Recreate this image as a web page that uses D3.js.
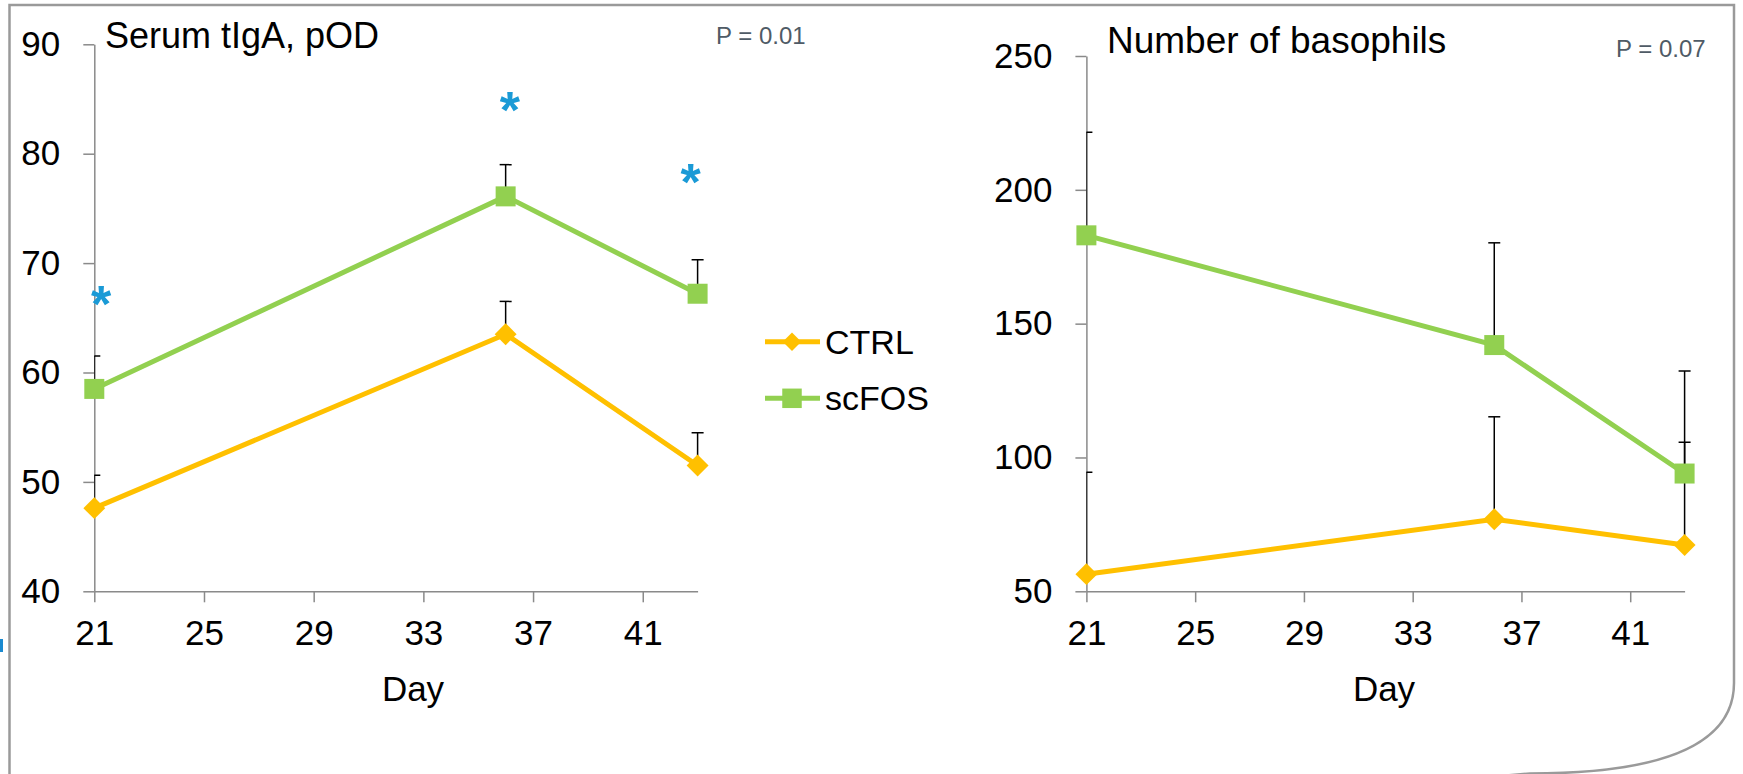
<!DOCTYPE html>
<html>
<head>
<meta charset="utf-8">
<script src="https://cdn.jsdelivr.net/npm/d3@7"></script>
<style>
    html, body { margin: 0; padding: 0; background: #fff; }
    svg { display: block; }
    text { font-family: "Liberation Sans", Arial, sans-serif; }
    .axis path, .axis line { stroke: #8a8a8a; stroke-width: 1.5; }
    .axis text { fill: #000; font-size: 35px; }
</style>
</head>
<body>
<div id="chart"></div>
<script>
// data
const days = [21, 36, 43];
const dayTicks = [21, 25, 29, 33, 37, 41];
const seriesNames = ['CTRL', 'scFOS'];

const igaTicks = [40, 50, 60, 70, 80, 90];
const igaCtrl = [47.6, 63.5, 51.5];
const igaCtrlSem = [3.0, 3.0, 3.0];
const igaScfos = [58.5, 76.1, 67.2];
const igaScfosSem = [3.0, 2.9, 3.1];
const igaStarDays = [21.25, 36.15, 42.75];
const igaStarLevels = [67.3, 85.0, 78.4];

const basoTicks = [50, 100, 150, 200, 250];
const basoCtrl = [56.4, 76.9, 67.3];
const basoCtrlSem = [38.1, 38.3, 38.4];
const basoScfos = [183, 142, 94];
const basoScfosSem = [38.5, 38.2, 38.3];

const orange = '#ffc000';
const green = '#92d050';
const width = 1743, height = 774;

class DayChart {
    constructor(option) {
        for (let [key, value] of Object.entries(option)) {
            this[key] = value;
        }
        this.g = this.svg.append('g');
        this.creatAxis();
        this.creatText();
        this.creatLines();
    }
    creatAxis() {
        this.x = d3.scaleLinear().domain([21, 43]).range([this.left, this.right]);
        this.y = d3.scaleLinear().domain(this.yDomain).range([this.bottom, this.top]);

        let yAxis = d3.axisLeft(this.y).tickValues(this.yTicks).tickSize(11).tickPadding(23).tickSizeOuter(0);
        this.g.append('g').attr('class', 'axis')
            .attr('transform', `translate(${this.left},0)`)
            .call(yAxis);

        let xAxis = d3.axisBottom(this.x).tickValues(dayTicks).tickSize(11).tickPadding(18).tickSizeOuter(0);
        this.g.append('g').attr('class', 'axis')
            .attr('transform', `translate(0,${this.bottom})`)
            .call(xAxis);
    }
    creatText() {
        this.g.append('text')
            .attr('x', this.titleX).attr('y', this.titleY)
            .attr('font-size', this.titleSize).text(this.title);
        this.g.append('text')
            .attr('x', this.pX).attr('y', this.pY)
            .attr('font-size', 24).attr('fill', '#4f5b66').text(this.pText);
        this.g.append('text')
            .attr('x', this.dayX).attr('y', 701)
            .attr('text-anchor', 'middle').attr('font-size', 35).text('Day');
    }
    creatLines() {
        let _this = this;
        let line = d3.line()
            .x(function(d) { return _this.x(d.day); })
            .y(function(d) { return _this.y(d.value); });

        let clipId = 'clip' + this.title.length;
        this.g.append('clipPath').attr('id', clipId)
            .append('rect')
            .attr('x', this.left).attr('y', 0)
            .attr('width', this.right - this.left + 20).attr('height', this.bottom);

        // error bars (upper only)
        let bars = this.g.append('g').attr('clip-path', `url(#${clipId})`);
        this.series.forEach(function(s) {
            s.data.forEach(function(d) {
                let cx = _this.x(d.day), top = _this.y(d.value + d.sem);
                bars.append('line')
                    .attr('x1', cx).attr('x2', cx)
                    .attr('y1', _this.y(d.value)).attr('y2', top)
                    .attr('stroke', '#000').attr('stroke-width', 1.5);
                bars.append('line')
                    .attr('x1', cx - 6).attr('x2', cx + 6)
                    .attr('y1', top).attr('y2', top)
                    .attr('stroke', '#000').attr('stroke-width', 1.5);
            });
        });

        let layers = this.g.selectAll('.layer')
            .data(this.series)
            .enter().append('g').attr('class', 'layer');

        layers.append('path')
            .attr('fill', 'none')
            .attr('stroke-width', 5)
            .attr('stroke', function(d) { return d.color; })
            .attr('d', function(d) { return line(d.data); });

        layers.selectAll('.marker')
            .data(function(d) { return d.data.map(function(p) { return Object.assign({ s: d }, p); }); })
            .enter().append('path')
            .attr('class', 'marker')
            .attr('fill', function(d) { return d.s.color; })
            .attr('d', function(d) { return d.s.square ? d3.symbol(d3.symbolSquare, 400)() : d3.symbol(d3.symbolSquare, 240)(); })
            .attr('transform', function(d) {
                return `translate(${_this.x(d.day)},${_this.y(d.value)})` + (d.s.square ? '' : ' rotate(45)');
            });

        if (this.stars) {
            this.g.selectAll('.star')
                .data(this.stars)
                .enter().append('text')
                .attr('class', 'star')
                .attr('x', function(d) { return _this.x(d.day); })
                .attr('y', function(d) { return _this.y(d.value) + 29; })
                .attr('text-anchor', 'middle')
                .attr('font-size', 52)
                .attr('font-weight', 'bold')
                .attr('fill', '#1a9ad6')
                .text('*');
        }
    }
}

function makeSeries(mean, sem, color, square) {
    return {
        color: color,
        square: square,
        data: days.map(function(day, i) { return { day: day, value: mean[i], sem: sem[i] }; })
    };
}

let svg = d3.select('#chart').append('svg')
    .attr('width', width).attr('height', height);

// frame: left edge, top edge, right edge with the rounded bottom-right corner
svg.append('path')
    .attr('d', 'M9.5,776 L9.5,5 L1734,5 L1734,683 Q1734,773.5 1530,773.5 L1500,776')
    .attr('fill', 'none').attr('stroke', '#9a9a9a').attr('stroke-width', 2.5);
svg.append('rect').attr('x', 0).attr('y', 639).attr('width', 3).attr('height', 13).attr('fill', '#1a8ad0');

new DayChart({
    svg: svg,
    left: 94.3, right: 697.6, top: 44.3, bottom: 591.3,
    yDomain: [40, 90], yTicks: igaTicks,
    title: 'Serum tIgA, pOD', titleX: 105, titleY: 48, titleSize: 36,
    pText: 'P = 0.01', pX: 716, pY: 43.5,
    dayX: 413,
    series: [makeSeries(igaCtrl, igaCtrlSem, orange, false), makeSeries(igaScfos, igaScfosSem, green, true)],
    stars: igaStarDays.map(function(d, i) { return { day: d, value: igaStarLevels[i] }; })
});

new DayChart({
    svg: svg,
    left: 1086.4, right: 1684.6, top: 56, bottom: 591.3,
    yDomain: [50, 250], yTicks: basoTicks,
    title: 'Number of basophils', titleX: 1107, titleY: 53, titleSize: 37,
    pText: 'P = 0.07', pX: 1616, pY: 57,
    dayX: 1384,
    series: [makeSeries(basoCtrl, basoCtrlSem, orange, false), makeSeries(basoScfos, basoScfosSem, green, true)]
});

// legend
let legend = svg.append('g');
let legendY = d3.scalePoint().domain(seriesNames).range([341.7, 398.3]);
let legendItems = legend.selectAll('g')
    .data(seriesNames)
    .enter().append('g')
    .attr('transform', function(d) { return `translate(0,${legendY(d)})`; });
legendItems.append('line')
    .attr('x1', 765).attr('x2', 820)
    .attr('stroke-width', 5)
    .attr('stroke', function(d, i) { return i ? green : orange; });
legendItems.append('path')
    .attr('d', function(d, i) { return i ? d3.symbol(d3.symbolSquare, 380)() : d3.symbol(d3.symbolSquare, 170)(); })
    .attr('fill', function(d, i) { return i ? green : orange; })
    .attr('transform', function(d, i) { return i ? 'translate(792,0)' : 'translate(792,0) rotate(45)'; });
legendItems.append('text')
    .attr('x', 825).attr('y', 12)
    .attr('font-size', 34)
    .text(function(d) { return d; });
</script>
</body>
</html>
